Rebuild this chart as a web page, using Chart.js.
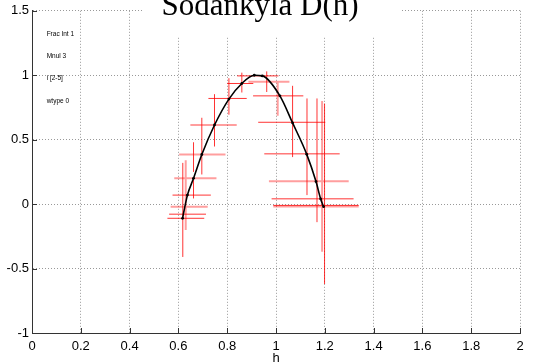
<!DOCTYPE html>
<html>
<head>
<meta charset="utf-8">
<script src="https://cdn.jsdelivr.net/npm/chart.js@4.4.0/dist/chart.umd.min.js"></script>
<style>
html, body { margin: 0; padding: 0; background: #fff; }
#wrap { width: 539px; height: 363px; }
</style>
</head>
<body>
<div id="wrap"><canvas id="chart" width="539" height="363"></canvas></div>
<script>
// fitted D(h) curve
const curveX = [0.617, 0.637, 0.662, 0.696, 0.748, 0.807, 0.860, 0.911, 0.944, 1.016, 1.068, 1.126, 1.164, 1.183, 1.195];
const curveY = [-0.11, 0.07, 0.2, 0.385, 0.614, 0.815, 0.936, 1.0, 0.995, 0.84, 0.63, 0.386, 0.175, 0.04, -0.02];

// strong error bars: horizontal (y, x from..to) and vertical (x, y from..to)
const redHy  = [-0.11, -0.078, 0.07, 0.82, 0.936, 0.995, 0.84, 0.635, 0.39, 0.041, -0.01];
const redHx0 = [0.555, 0.562, 0.576, 0.723, 0.800, 0.841, 0.906, 0.927, 0.952, 0.982, 0.989];
const redHx1 = [0.706, 0.713, 0.733, 0.880, 0.907, 1.010, 1.112, 1.202, 1.261, 1.318, 1.339];
const redVx  = [0.618, 0.662, 0.662, 0.696, 0.748, 0.807, 0.860, 0.962, 1.068, 1.127, 1.168, 1.199];
const redVy0 = [-0.41, 0.25, 0.044, 0.23, 0.447, 0.694, 0.866, 0.87, 0.365, 0.07, -0.14, -0.62];
const redVy1 = [0.32, 0.48, 0.19, 0.67, 0.853, 0.977, 1.02, 1.03, 0.918, 0.82, 0.82, 0.78];

// faint error bars
const pinkHy  = [-0.02, 0.2, 0.385, 0.614, 0.95, 0.177, -0.018];
const pinkHx0 = [0.568, 0.583, 0.603, 0.649, 0.887, 0.971, 0.989];
const pinkHx1 = [0.720, 0.756, 0.793, 0.839, 1.055, 1.298, 1.339];
const pinkVx  = [0.630, 1.007, 1.189];
const pinkVy0 = [-0.2, 0.686, -0.37];
const pinkVy1 = [0.34, 0.95, 0.8];

const xTicks = [0, 0.2, 0.4, 0.6, 0.8, 1, 1.2, 1.4, 1.6, 1.8, 2];
const yTicks = [-1, -0.5, 0, 0.5, 1, 1.5];

const titleText = "Sodankyla D(h)";
const notes = ["Frac Int 1", "Mnul 3", "i [2-5]", "wtype 0"];
const noteX = 0.06;
const noteY = [1.32, 1.15, 0.975, 0.80];

// turn bar lists into one line dataset, gaps between segments
function bars(hy, hx0, hx1, vx, vy0, vy1) {
    let pts = [];
    for (let i = 0; i < hy.length; i++) {
        pts.push({x: hx0[i], y: hy[i]}, {x: hx1[i], y: hy[i]}, {x: hx1[i], y: null});
    }
    for (let i = 0; i < vx.length; i++) {
        pts.push({x: vx[i], y: vy0[i]}, {x: vx[i], y: vy1[i]}, {x: vx[i], y: null});
    }
    return pts;
}

const overlay = {
    id: 'overlay',
    beforeDatasetsDraw(chart) {
        const {ctx, chartArea: area, scales: {x, y}} = chart;
        ctx.save();
        // title area blanks the grid
        ctx.fillStyle = '#fff';
        ctx.fillRect(143, 0, 257, 37);
        // inward tick marks
        ctx.strokeStyle = '#333';
        ctx.lineWidth = 1;
        ctx.beginPath();
        yTicks.forEach(v => {
            const py = Math.round(y.getPixelForValue(v)) + 0.5;
            ctx.moveTo(area.left, py);
            ctx.lineTo(area.left + 5, py);
        });
        xTicks.forEach(v => {
            const px = Math.round(x.getPixelForValue(v)) + 0.5;
            ctx.moveTo(px, area.bottom);
            ctx.lineTo(px, area.bottom - 5);
        });
        ctx.stroke();
        ctx.restore();
    },
    afterDraw(chart) {
        const {ctx, scales: {x, y}} = chart;
        ctx.save();
        ctx.fillStyle = '#000';
        ctx.font = '31px "Liberation Serif"';
        ctx.textAlign = 'center';
        ctx.textBaseline = 'alphabetic';
        ctx.fillText(titleText, 260, 15);

        ctx.font = '6.5px "Liberation Sans"';
        ctx.textAlign = 'left';
        ctx.textBaseline = 'middle';
        notes.forEach((t, i) => {
            ctx.fillText(t, x.getPixelForValue(noteX), y.getPixelForValue(noteY[i]));
        });
        ctx.restore();
    }
};

const axisFont = {family: '"Liberation Sans", Arial', size: 13};

new Chart(document.getElementById('chart').getContext('2d'), {
    type: 'line',
    data: {
        datasets: [
            {
                data: curveX.map((v, i) => ({x: v, y: curveY[i]})),
                borderColor: '#000',
                backgroundColor: '#000',
                borderWidth: 1.6,
                pointRadius: 1.4,
                pointBorderWidth: 0,
                cubicInterpolationMode: 'monotone'
            },
            {
                data: bars(redHy, redHx0, redHx1, redVx, redVy0, redVy1),
                borderColor: 'rgba(255, 0, 0, 0.8)',
                borderWidth: 1,
                pointRadius: 0,
                spanGaps: false
            },
            {
                data: bars(pinkHy, pinkHx0, pinkHx1, pinkVx, pinkVy0, pinkVy1),
                borderColor: 'rgba(255, 0, 0, 0.38)',
                borderWidth: 2,
                pointRadius: 0,
                spanGaps: false
            }
        ]
    },
    options: {
        responsive: false,
        animation: false,
        events: [],
        layout: {padding: {top: 10, right: 19, left: 0, bottom: 0}},
        plugins: {
            legend: {display: false},
            tooltip: {enabled: false}
        },
        scales: {
            x: {
                type: 'linear',
                min: 0,
                max: 2,
                afterBuildTicks: (scale) => { scale.ticks = xTicks.map(v => ({value: v})); },
                afterFit: (scale) => { scale.height = 30; },
                ticks: {
                    padding: 6,
                    color: '#000',
                    font: axisFont,
                    maxRotation: 0,
                    autoSkip: false,
                    callback: (v) => String(Math.round(v * 10) / 10)
                },
                grid: {color: '#999', lineWidth: 1, drawTicks: false},
                border: {color: '#333', width: 1, dash: [1, 2]},
                title: {display: true, text: 'h', color: '#000', font: {family: '"Liberation Sans", Arial', size: 13, lineHeight: 1}, padding: {top: 0, bottom: -2}}
            },
            y: {
                type: 'linear',
                min: -1,
                max: 1.5,
                afterBuildTicks: (scale) => { scale.ticks = yTicks.map(v => ({value: v})); },
                afterFit: (scale) => { scale.width = 32; },
                ticks: {
                    padding: 3,
                    color: '#000',
                    font: axisFont,
                    autoSkip: false,
                    callback: (v) => String(Math.round(v * 10) / 10)
                },
                grid: {color: '#999', lineWidth: 1, drawTicks: false},
                border: {color: '#333', width: 1, dash: [1, 2]}
            }
        }
    },
    plugins: [overlay]
});
</script>
</body>
</html>
